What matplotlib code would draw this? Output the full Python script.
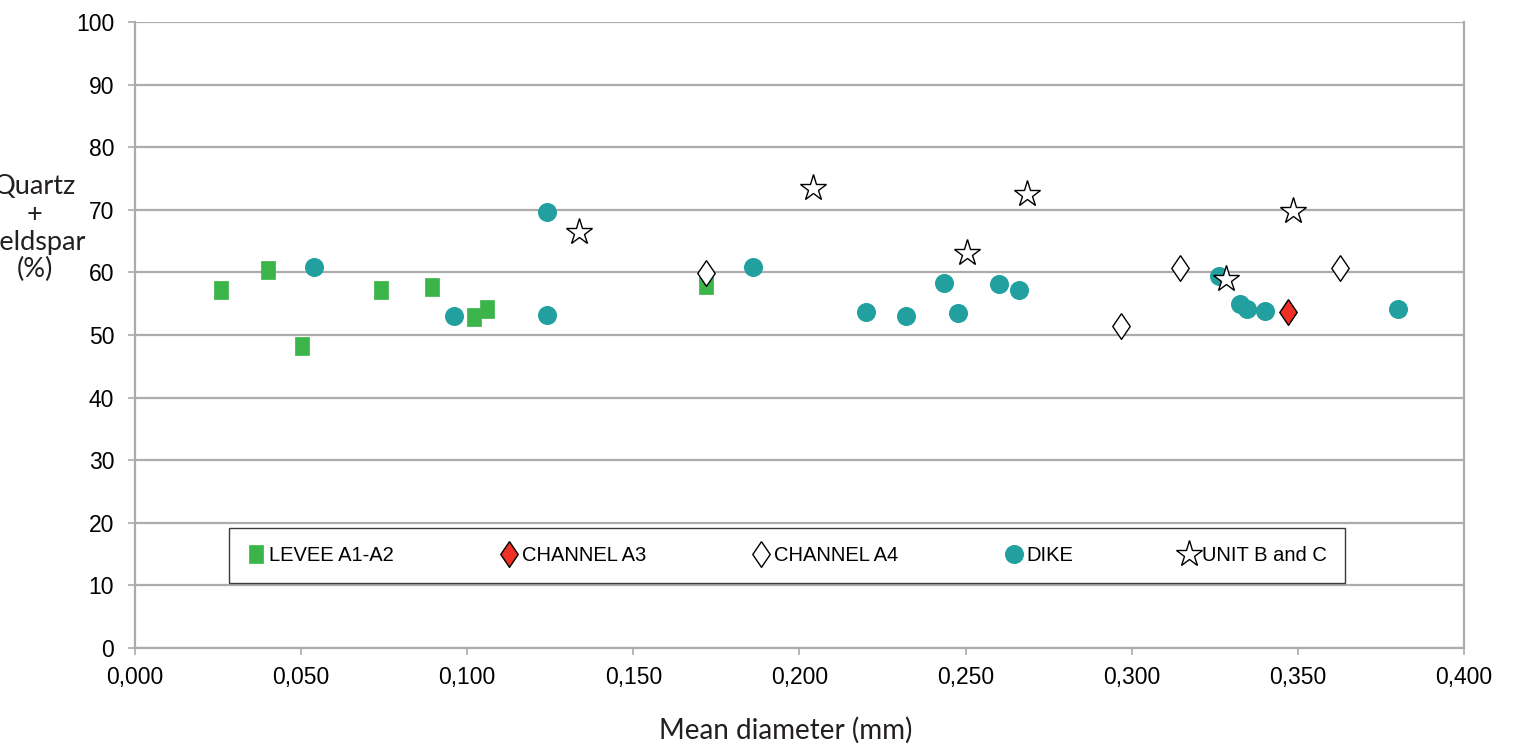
import numpy as np
import matplotlib
matplotlib.use("Agg")
import matplotlib.pyplot as plt
from matplotlib.lines import Line2D

# --- data ---
levee_x = [0.0259, 0.0401, 0.0503, 0.0741, 0.0895, 0.1021, 0.1060, 0.1720]
levee_y = [57.2, 60.4, 48.2, 57.2, 57.7, 52.9, 54.2, 58.0]

ch_a3_x = [0.3470]
ch_a3_y = [53.7]

ch_a4_x = [0.1720, 0.2967, 0.3145, 0.3627]
ch_a4_y = [59.9, 51.4, 60.7, 60.7]

dike_x = [0.0539, 0.0961, 0.1241, 0.1241, 0.1861, 0.2199, 0.2322, 0.2434,
          0.2476, 0.2602, 0.2660, 0.3262, 0.3325, 0.3346, 0.3401, 0.3801]
dike_y = [60.9, 53.0, 69.6, 53.2, 60.9, 53.7, 53.0, 58.3,
          53.5, 58.1, 57.2, 59.4, 55.0, 54.2, 53.8, 54.2]

unit_x = [0.1337, 0.2042, 0.2503, 0.2684, 0.3283, 0.3485]
unit_y = [66.5, 73.5, 63.1, 72.6, 58.9, 69.8]

x_ticks = [0.0, 0.05, 0.10, 0.15, 0.20, 0.25, 0.30, 0.35, 0.40]
x_tick_labels = ["0,000", "0,050", "0,100", "0,150", "0,200", "0,250", "0,300", "0,350", "0,400"]
y_ticks = list(range(0, 101, 10))

GREEN = "#3bb54a"
RED = "#ee3124"
TEAL = "#21a09f"
GRID = "#acacac"

# custom marker shapes
rect_marker = [(-0.38, -0.5), (0.38, -0.5), (0.38, 0.5), (-0.38, 0.5), (-0.38, -0.5)]
diamond_marker = [(0, 1), (0.68, 0), (0, -1), (-0.68, 0), (0, 1)]

fig = plt.figure(figsize=(15.13, 7.46), dpi=100)
ax = fig.add_axes([0.0892, 0.1314, 0.8784, 0.8391])

ax.plot(levee_x, levee_y, linestyle="none", marker=rect_marker, ms=12.5,
        mfc=GREEN, mec=GREEN, mew=0.5, zorder=3)
ax.plot(ch_a3_x, ch_a3_y, linestyle="none", marker=diamond_marker, ms=18.5,
        mfc=RED, mec="black", mew=1.0, zorder=4)
ax.plot(ch_a4_x, ch_a4_y, linestyle="none", marker=diamond_marker, ms=18.5,
        mfc="white", mec="black", mew=1.0, zorder=4)
ax.plot(dike_x, dike_y, linestyle="none", marker="o", ms=13.7,
        mfc=TEAL, mec=TEAL, mew=0, zorder=4)
ax.plot(unit_x, unit_y, linestyle="none", marker="*", ms=20,
        mfc="white", mec="black", mew=1.0, zorder=5)

ax.set_xlim(0, 0.4)
ax.set_ylim(0, 100)
ax.set_xticks(x_ticks)
ax.set_xticklabels(x_tick_labels)
ax.set_yticks(y_ticks)

ax.yaxis.grid(True, color=GRID, linewidth=1.6)
ax.set_axisbelow(True)
for side in ["left", "bottom", "right"]:
    ax.spines[side].set_color(GRID)
    ax.spines[side].set_linewidth(1.6)
ax.spines["top"].set_visible(False)

ax.tick_params(axis="both", colors=GRID, length=5, width=1.2, direction="out",
               labelcolor="black", labelsize=16.5)
for lab in ax.get_xticklabels() + ax.get_yticklabels():
    lab.set_fontfamily("Liberation Sans")
ax.tick_params(axis="x", pad=8)
ax.tick_params(axis="y", pad=10)

# axis titles (placed like the original, slightly left of centre)
fig.text(0.5195, 0.0214, "Mean diameter (mm)", ha="center", va="center",
         fontsize=20, family="Lato", color="#231f20")
fig.text(0.023, 0.694, "Quartz\n+\nFeldspar\n(%)", ha="center", va="center",
         fontsize=19.5, family="Lato", color="#231f20", linespacing=1.13)

handles = [
    Line2D([], [], linestyle="none", marker=rect_marker, ms=12.5, mfc=GREEN, mec=GREEN, mew=0.5),
    Line2D([], [], linestyle="none", marker=diamond_marker, ms=18.5, mfc=RED, mec="black", mew=1.0),
    Line2D([], [], linestyle="none", marker=diamond_marker, ms=18.5, mfc="white", mec="black", mew=1.0),
    Line2D([], [], linestyle="none", marker="o", ms=13.7, mfc=TEAL, mec=TEAL, mew=0),
    Line2D([], [], linestyle="none", marker="*", ms=20, mfc="white", mec="black", mew=1.0),
]
labels = ["LEVEE A1-A2", "CHANNEL A3", "CHANNEL A4", "DIKE", "UNIT B and C"]
leg = ax.legend(handles, labels, ncol=5, mode="expand",
                bbox_to_anchor=(0.0705, 0.104, 0.8397, 0.09), loc="lower left",
                fancybox=False, framealpha=1, edgecolor="#3a3a3a", borderpad=0.9,
                handlelength=0.9, handletextpad=0.2, borderaxespad=0,
                prop={"family": "Liberation Sans", "size": 14.5})
leg.get_frame().set_linewidth(1.0)

fig.savefig("out.png", dpi=100)
